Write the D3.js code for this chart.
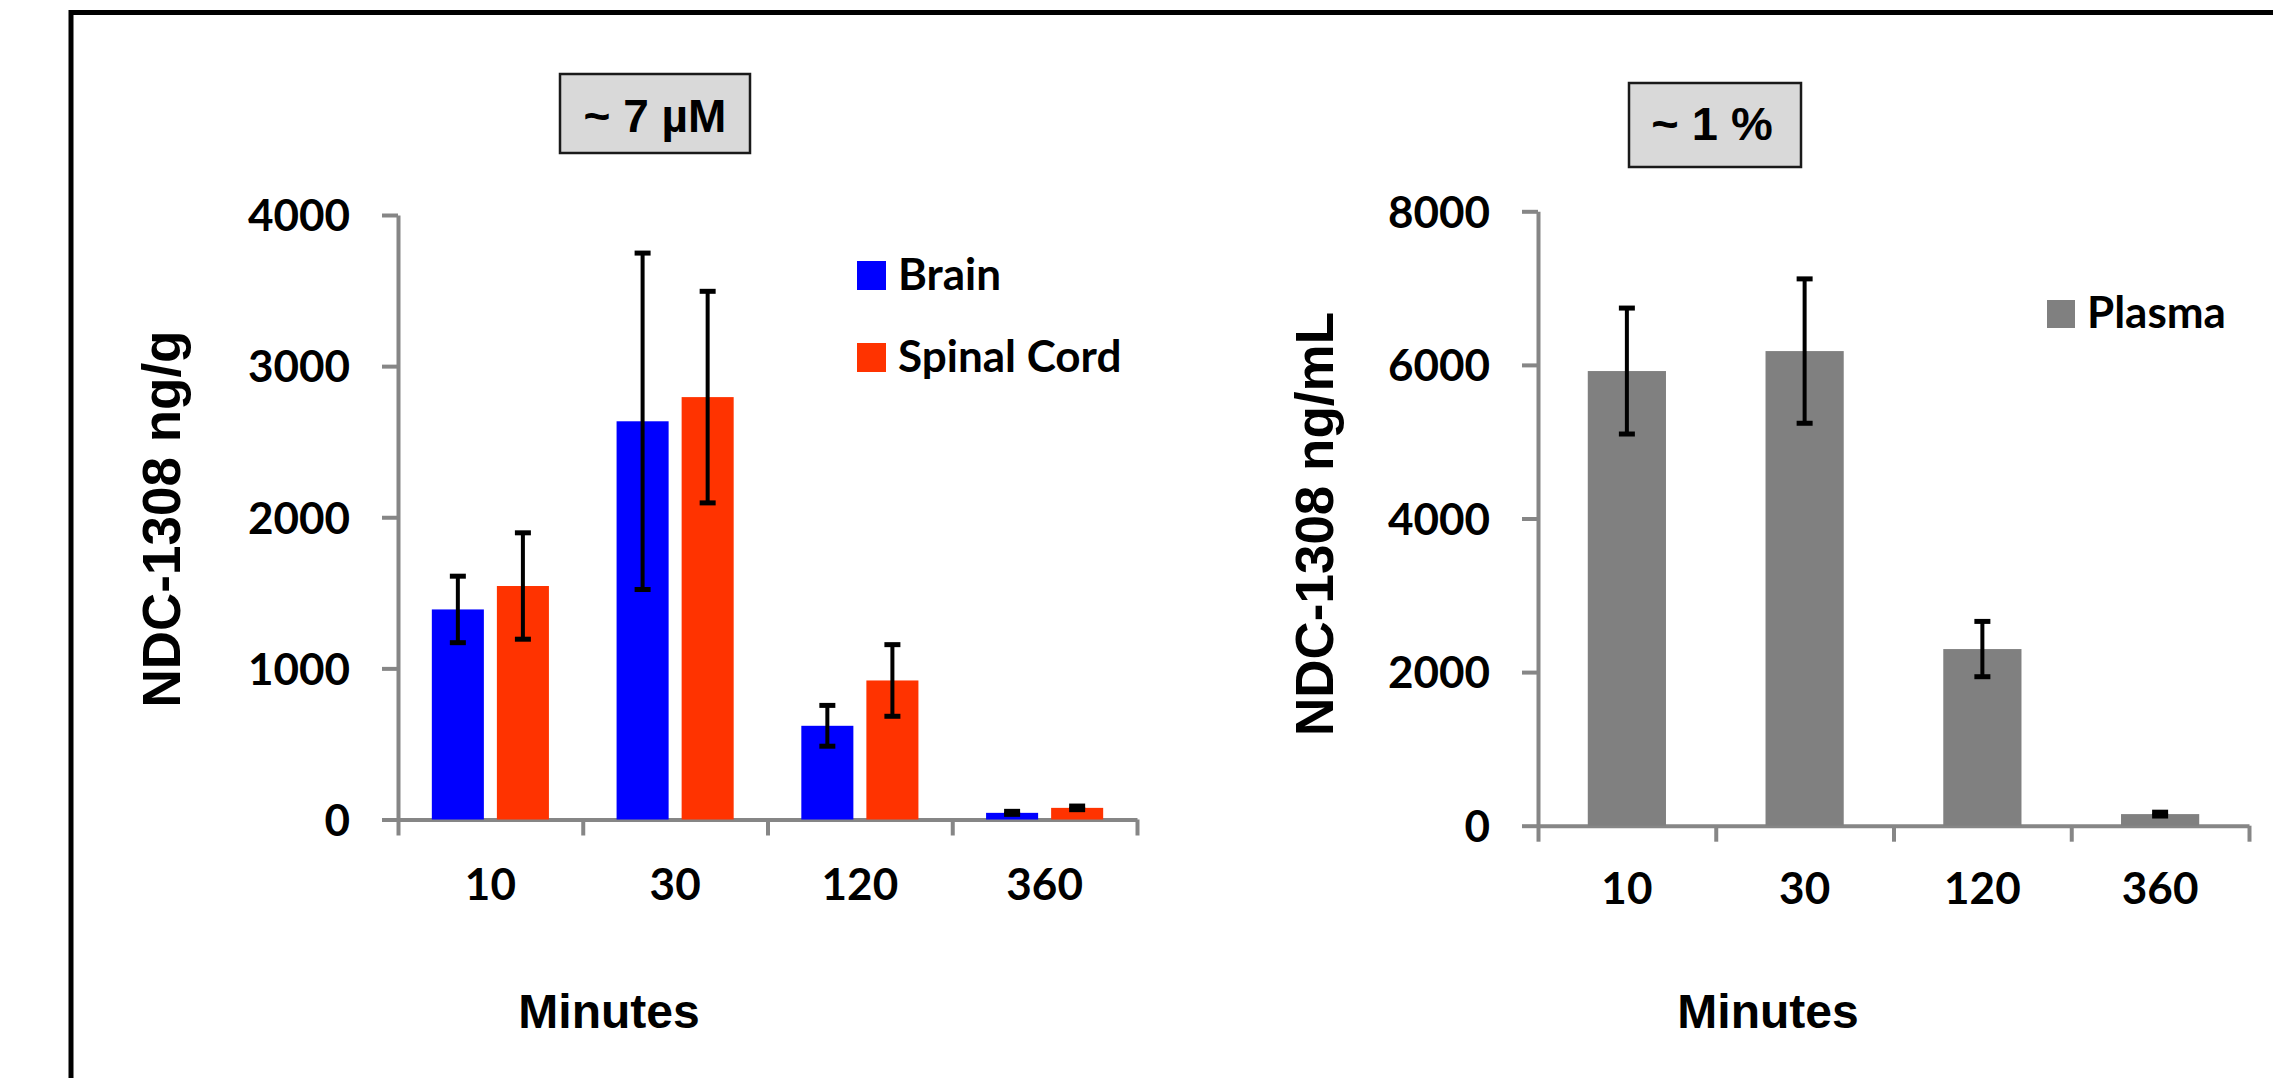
<!DOCTYPE html>
<html>
<head>
<meta charset="utf-8">
<script src="https://cdn.jsdelivr.net/npm/d3@7"></script>
<style>
  html, body { margin: 0; padding: 0; background: #ffffff; }
  svg { display: block; }
</style>
</head>
<body>
<script>
// ---------------- data ----------------
const minutes = ["10", "30", "120", "360"];
const tissueSeries = ["Brain", "Spinal Cord"];
const brainMean = [1390, 2635, 620, 44];
const brainErr = [220, 1113, 135, 10];
const spinalMean = [1545, 2795, 920, 77];
const spinalErr = [352, 700, 237, 12];
const plasmaSeries = ["Plasma"];
const plasmaMean = [5920, 6180, 2300, 151];
const plasmaErr = [820, 940, 360, 25];
const leftTicks = [0, 1000, 2000, 3000, 4000];
const rightTicks = [0, 2000, 4000, 6000, 8000];
const leftTitle = "~ 7 µM";
const rightTitle = "~ 1 %";
const leftYLabel = "NDC-1308 ng/g";
const rightYLabel = "NDC-1308 ng/mL";
const xLabel = "Minutes";

// ---------------- style ----------------
const W = 2273, H = 1078;
const axisColor = "#868686";
const colors = { "Brain": "#0000ff", "Spinal Cord": "#ff3300", "Plasma": "#808080" };
const arialBold = "'Liberation Sans', Arial, sans-serif";
const calibriLike = "Lato, 'Open Sans', sans-serif";
const tickFmt = d3.format("d");

const svg = d3.select("body").append("svg").attr("width", W).attr("height", H);
svg.append("rect").attr("width", W).attr("height", H).attr("fill", "#fff");

// outer frame (left & top edges)
svg.append("path")
  .attr("d", "M71,1095V12.5H2295")
  .attr("fill", "none").attr("stroke", "#000").attr("stroke-width", 5);

function titleBox(x, y, w, h, text, size, tx, ty) {
  svg.append("rect").attr("x", x).attr("y", y).attr("width", w).attr("height", h)
    .attr("fill", "#d9d9d9").attr("stroke", "#1a1a1a").attr("stroke-width", 2.5);
  svg.append("text").attr("x", tx).attr("y", ty).attr("text-anchor", "middle")
    .attr("font-family", arialBold).attr("font-weight", "bold").attr("font-size", size)
    .attr("fill", "#000").text(text);
}

function styleAxis(g) {
  g.selectAll(".domain").attr("stroke", axisColor).attr("stroke-width", 4);
  g.selectAll(".tick line").attr("stroke", axisColor).attr("stroke-width", 4);
}

function errorBars(x, y, mean, err, centerOf) {
  const eg = svg.append("g");
  minutes.forEach((d, i) => {
    const cx = centerOf(d);
    const hi = y(mean[i] + err[i]), lo = y(mean[i] - err[i]);
    eg.append("line").attr("x1", cx).attr("x2", cx).attr("y1", hi).attr("y2", lo)
      .attr("stroke", "#000").attr("stroke-width", 4);
    [hi, lo].forEach(yy => eg.append("line").attr("x1", cx - 8).attr("x2", cx + 8)
      .attr("y1", yy).attr("y2", yy).attr("stroke", "#000").attr("stroke-width", 5));
  });
}

function axes(x, y, ticks, labelOffset) {
  const y0 = y(0);
  const gy = svg.append("g").attr("transform", `translate(${x.range()[0]},0)`)
    .call(d3.axisLeft(y).tickValues(ticks).tickFormat(tickFmt)
      .tickSize(16).tickSizeOuter(0).tickPadding(32));
  styleAxis(gy);
  gy.selectAll(".tick text").attr("font-family", calibriLike).attr("font-weight", "bold")
    .attr("font-size", 44).attr("fill", "#000").attr("dy", "0.36em");

  const bnd = d3.scaleLinear().domain([0, minutes.length]).range(x.range());
  const gx = svg.append("g").attr("transform", `translate(0,${y0})`)
    .call(d3.axisBottom(bnd).tickValues(d3.range(minutes.length + 1)).tickFormat("")
      .tickSize(16).tickSizeOuter(0));
  styleAxis(gx);
  const gl = svg.append("g").attr("transform", `translate(0,${y0})`)
    .call(d3.axisBottom(x).tickSize(0));
  gl.select(".domain").remove();
  gl.selectAll(".tick text").attr("font-family", calibriLike).attr("font-weight", "bold")
    .attr("font-size", 44).attr("fill", "#000").attr("y", labelOffset).attr("dy", 0);
}

// ---------------- left chart ----------------
const xL = d3.scaleBand().domain(minutes).range([398, 1137]);
const xLsub = d3.scaleBand().domain(tissueSeries).range([0, xL.bandwidth()])
  .paddingInner(0.2).paddingOuter(0.52);
const yL = d3.scaleLinear().domain([0, 4000]).range([819.5, 215]);

axes(xL, yL, leftTicks, 80);
[["Brain", brainMean, brainErr], ["Spinal Cord", spinalMean, spinalErr]].forEach(([name, mean]) => {
  svg.append("g").selectAll("rect").data(minutes).join("rect")
    .attr("x", d => xL(d) + xLsub(name))
    .attr("width", xLsub.bandwidth())
    .attr("y", (d, i) => yL(mean[i]))
    .attr("height", (d, i) => yL(0) - yL(mean[i]))
    .attr("fill", colors[name]);
});
errorBars(xL, yL, brainMean, brainErr, d => xL(d) + xLsub("Brain") + xLsub.bandwidth() / 2);
errorBars(xL, yL, spinalMean, spinalErr, d => xL(d) + xLsub("Spinal Cord") + xLsub.bandwidth() / 2);

// ---------------- right chart ----------------
const xR = d3.scaleBand().domain(minutes).range([1538, 2249]).paddingInner(0.56).paddingOuter(0.28);
const yR = d3.scaleLinear().domain([0, 8000]).range([825.7, 211.3]);

axes(xR, yR, rightTicks, 78);
svg.append("g").selectAll("rect").data(minutes).join("rect")
  .attr("x", d => xR(d))
  .attr("width", xR.bandwidth())
  .attr("y", (d, i) => yR(plasmaMean[i]))
  .attr("height", (d, i) => yR(0) - yR(plasmaMean[i]))
  .attr("fill", colors["Plasma"]);
errorBars(xR, yR, plasmaMean, plasmaErr, d => xR(d) + xR.bandwidth() / 2);

// ---------------- titles ----------------
titleBox(560, 74, 190, 79, leftTitle, 46, 655, 131.5);
titleBox(1629, 83, 172, 84, rightTitle, 47, 1712, 140);

// ---------------- axis labels ----------------
function yLabel(x, y, text) {
  svg.append("text").attr("transform", `translate(${x},${y}) rotate(-90)`)
    .attr("text-anchor", "middle").attr("font-family", arialBold).attr("font-weight", "bold")
    .attr("font-size", 53).attr("fill", "#000").text(text);
}
yLabel(180, 519, leftYLabel);
yLabel(1333, 524, rightYLabel);

function xTitle(x, y, text) {
  svg.append("text").attr("x", x).attr("y", y).attr("text-anchor", "middle")
    .attr("font-family", arialBold).attr("font-weight", "bold").attr("font-size", 48)
    .attr("fill", "#000").text(text);
}
xTitle(609, 1028, xLabel);
xTitle(1768, 1028, xLabel);

// ---------------- legends ----------------
function legend(items, x, y, gap, size) {
  const g = svg.append("g");
  items.forEach((name, i) => {
    g.append("rect").attr("x", x).attr("y", y + i * gap).attr("width", size).attr("height", size)
      .attr("fill", colors[name]);
    g.append("text").attr("x", x + size + 12).attr("y", y + i * gap + size - 0.5)
      .attr("font-family", calibriLike).attr("font-weight", "bold").attr("font-size", 44)
      .attr("fill", "#000").text(name);
  });
}
legend(tissueSeries, 857, 261, 82, 29);
legend(plasmaSeries, 2047, 300, 0, 28);
</script>
</body>
</html>
